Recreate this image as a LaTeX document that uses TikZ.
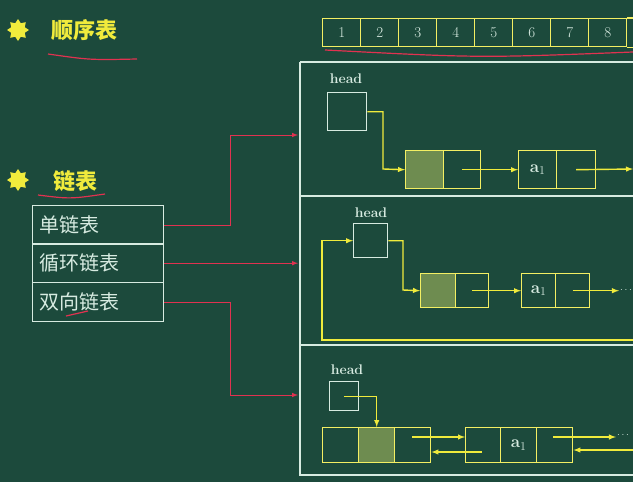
\documentclass[tikz,border=0pt]{standalone}
\usepackage{fontspec}
\newfontfamily\cjk{Noto Sans CJK SC}
\usetikzlibrary{shapes.geometric, shapes.multipart, calc}
\definecolor{boardGreen}{RGB}{28, 74, 60}
\definecolor{chalkWhite}{RGB}{215, 235, 225}
\definecolor{chalkYellow}{RGB}{240, 235, 60}
\definecolor{penRed}{RGB}{225, 50, 80}
\definecolor{cellFill}{RGB}{110, 140, 80}
\begin{document}
\begin{tikzpicture} [
        x=1pt, y=-1pt,
        font=\sffamily,
        wbox/.style={draw=chalkWhite, line width=1.4pt},
        ybox/.style={draw=chalkYellow!80!white, line width=1.4pt},
        ylink/.style={chalkYellow, line width=1.4pt, -latex},
        rlink/.style={penRed, line width=1pt, -latex},
        bullet/.style={star, star points=8, star point ratio=1.5, fill=chalkYellow, minimum size=22pt, inner sep=0pt},
        lbl/.style={text=chalkWhite, font=\bfseries\fontsize{14}{16}\selectfont},
        ai/.style={text=chalkWhite, font=\bfseries\fontsize{17}{19}\selectfont}
    ]
    \fill[boardGreen] (0,0) rectangle (633,482);
    \useasboundingbox (0,0) rectangle (633,482);

    % titles
    \node[bullet] (s1) at (18,30) {};
    \node[bullet] (s2) at (18,180) {};
    \node[text=chalkYellow, font=\cjk\bfseries\fontsize{22}{24}\selectfont] (seq) at (85,30) {顺序表};
    \node[text=chalkYellow, font=\cjk\bfseries\fontsize{22}{24}\selectfont] (lnk) at (75,181) {链表};
    \draw[penRed, line width=1.2pt] (48,54) .. controls (90,60) .. (137,59);
    \draw[penRed, line width=1.2pt] (38,195) .. controls (70,199) .. (105,194);

    % list types
    \foreach \t/\y/\n in {单链表/205/single, 循环链表/243/cycle, 双向链表/282/double} {
        \node[wbox, anchor=north west, minimum width=131pt, minimum height=39pt,
              text=chalkWhite, font=\cjk\fontsize{20}{22}\selectfont, inner xsep=6pt, text width=118pt] (\n) at (32,\y) {\t};
    }
    \draw[penRed, line width=1.2pt] (66,316) -- (88,311);

    % sequence table
    \foreach \i in {1,...,8} {
        \node[ybox, anchor=north west, minimum width=38pt, minimum height=28pt,
              text=chalkWhite, font=\fontsize{15}{17}\selectfont] (arr-\i) at ({322+38*(\i-1)},18) {\i};
    }
    \draw[ybox] (arr-8.north east) -- ++(10,0) (arr-8.south east) -- ++(10,0);
    \draw[penRed, line width=1.2pt] (325,50) .. controls (480,58) .. (633,52);

    % panels
    \draw[wbox] (300,62) -- (640,62) (300,62) -- (300,475) -- (640,475)
                (300,196) -- (640,196) (300,345) -- (640,345);

    % connectors
    \draw[rlink] (single.east) -| (230,135) -- (298,135);
    \draw[rlink] (cycle.east) -- (cycle.east -| 298,0);
    \draw[rlink] (double.east) -| (230,395) -- (298,395);

    % panel 1
    \node[lbl] at (346,79) {head};
    \node[wbox, anchor=north west, minimum width=39pt, minimum height=38pt] (h1) at (327,92) {};
    \node[ybox, anchor=north west, minimum width=38pt, minimum height=38pt, fill=cellFill] (p1-0a) at (405,150) {};
    \node[ybox, anchor=north west, minimum width=37pt, minimum height=38pt] (p1-0b) at (443,150) {};
    \node[ybox, anchor=north west, minimum width=38pt, minimum height=38pt, ai] (p1-1a) at (518,150) {a$_1$};
    \node[ybox, anchor=north west, minimum width=39pt, minimum height=38pt] (p1-1b) at (556,150) {};
    \draw[ylink] (h1.east) -| (383,169) -- (p1-0a.west);
    \draw[ylink] (p1-0b.center) -- (p1-1a.west);
    \coordinate (p1-end) at (633,169);
    \draw[ylink] (p1-1b.center) -- (p1-end);

    % panel 2
    \node[lbl] at (371,213) {head};
    \node[wbox, anchor=north west, minimum width=34pt, minimum height=34pt] (h2) at (353,223) {};
    \node[ybox, anchor=north west, minimum width=35pt, minimum height=34pt, fill=cellFill] (p2-0a) at (420,273) {};
    \node[ybox, anchor=north west, minimum width=33pt, minimum height=34pt] (p2-0b) at (455,273) {};
    \node[ybox, anchor=north west, minimum width=34pt, minimum height=34pt, ai] (p2-1a) at (521,273) {a$_1$};
    \node[ybox, anchor=north west, minimum width=34pt, minimum height=34pt] (p2-1b) at (555,273) {};
    \node[text=chalkWhite, inner sep=1pt] (p2-dots) at (626,290) {$\cdots$};
    \draw[ylink] (h2.east) -| (403,290) -- (p2-0a.west);
    \draw[ylink] (p2-0b.center) -- (p2-1a.west);
    \draw[ylink] (p2-1b.center) -- (p2-1b.center -| p2-dots.west);
    \draw[ylink, -latex] (640,340) -- (322,340) |- (h2.west);

    % panel 3
    \node[lbl] at (347,370) {head};
    \node[wbox, anchor=north west, minimum width=29pt, minimum height=29pt] (h3) at (329,381) {};
    \foreach \k/\x/\f in {0/322/none, 1/358/cellFill, 2/394/none} {
        \node[ybox, anchor=north west, minimum width=36pt, minimum height=35pt, fill=\f] (p3-0-\k) at (\x,427) {};
    }
    \node[ybox, anchor=north west, minimum width=35pt, minimum height=35pt] (p3-1-0) at (465,427) {};
    \node[ybox, anchor=north west, minimum width=36pt, minimum height=35pt, ai] (p3-1-1) at (500,427) {a$_1$};
    \node[ybox, anchor=north west, minimum width=36pt, minimum height=35pt] (p3-1-2) at (536,427) {};
    \node[text=chalkWhite, inner sep=1pt] (p3-dots) at (623,435) {$\cdots$};
    \coordinate (p3-f0) at (412,437);
    \coordinate (p3-b0) at (482,452);
    \coordinate (p3-f1) at (553,437);
    \coordinate (p3-b1) at (633,450);
    \draw[ylink] (h3.center) -| (p3-0-1.north);
    \draw[ylink] (p3-f0) -- (p3-f0 -| p3-1-0.west);
    \draw[ylink] (p3-b0) -- (p3-b0 -| p3-0-2.east);
    \draw[ylink] (p3-f1) -- (p3-f1 -| p3-dots.west);
    \draw[ylink] (p3-b1) -- (p3-b1 -| p3-1-2.east);
\end{tikzpicture}
\end{document}
